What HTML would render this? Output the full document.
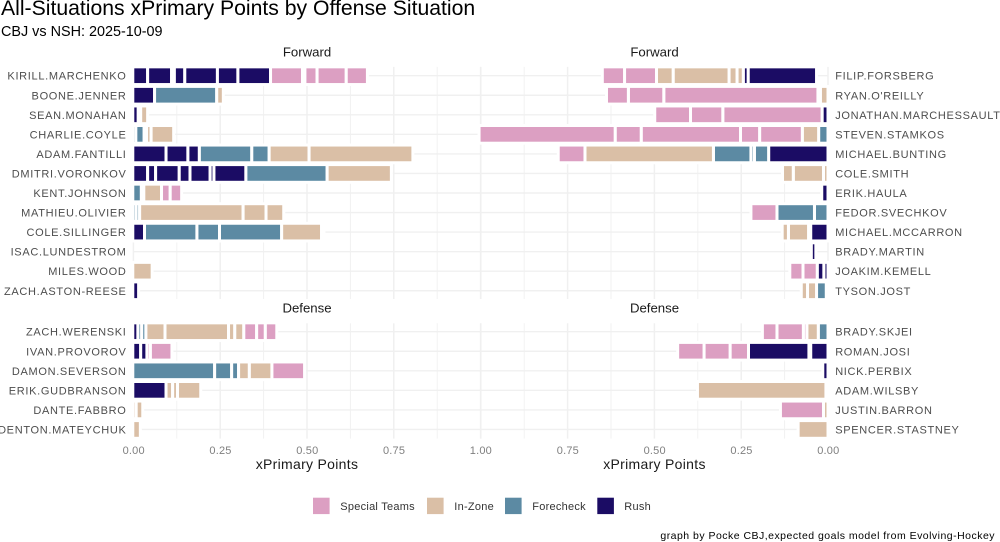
<!DOCTYPE html>
<html lang="en">
<head>
<meta charset="utf-8">
<title>All-Situations xPrimary Points by Offense Situation</title>
<style>
html,body{margin:0;padding:0;background:#fff;}
body{width:1000px;height:542px;overflow:hidden;}
svg{display:block;font-family:"Liberation Sans",Arial,sans-serif;}
.name{font-size:11px;letter-spacing:.68px;fill:#4d4d4d;}
.tick{font-size:11px;letter-spacing:.2px;fill:#7f7f7f;}
.axt{font-size:14px;letter-spacing:.3px;fill:#1a1a1a;}
.strip{font-size:13.2px;fill:#1a1a1a;}
.leg{font-size:11px;letter-spacing:.25px;fill:#333;}
</style>
</head>
<body>
<svg id="chart" xmlns="http://www.w3.org/2000/svg" width="1000" height="542" viewBox="0 0 1000 542">
  <text x="1" y="15" font-size="21.2" fill="#000">All-Situations xPrimary Points by Offense Situation</text>
  <text x="1" y="36" font-size="14.4" fill="#000">CBJ vs NSH: 2025-10-09</text>
  <text class="strip" x="307" y="56.5" text-anchor="middle">Forward</text>
  <text class="strip" x="654.5" y="56.5" text-anchor="middle">Forward</text>
  <text class="strip" x="307" y="312.5" text-anchor="middle">Defense</text>
  <text class="strip" x="654.5" y="312.5" text-anchor="middle">Defense</text>
  <text class="axt" x="307" y="469" text-anchor="middle">xPrimary Points</text>
  <text class="axt" x="654.5" y="469" text-anchor="middle">xPrimary Points</text>
  <g id="grid"></g>
  <g id="bars"></g>
  <g id="labels"></g>
  <g>
    <rect x="313" y="497.7" width="16.6" height="16.4" fill="#dc9fc2"/>
    <text class="leg" x="340.3" y="510">Special Teams</text>
    <rect x="427" y="497.7" width="16.6" height="16.4" fill="#dabfa6"/>
    <text class="leg" x="454.3" y="510">In-Zone</text>
    <rect x="505" y="497.7" width="16.6" height="16.4" fill="#5c8aa3"/>
    <text class="leg" x="532.3" y="510">Forecheck</text>
    <rect x="597.3" y="497.7" width="16.6" height="16.4" fill="#1b0c64"/>
    <text class="leg" x="624.3" y="510">Rush</text>
  </g>
  <text x="995" y="539" text-anchor="end" font-size="10.5" letter-spacing=".48" fill="#000">graph by Pocke CBJ,expected goals model from Evolving-Hockey</text>
</svg>
<script>
// Situation codes: S = Special Teams, I = In-Zone, F = Forecheck, R = Rush, N = no mark (empty stretch)
const situationColors = {S:'#dc9fc2', I:'#dabfa6', F:'#5c8aa3', R:'#1b0c64'};
const situationNames = {S:'special-teams', I:'in-zone', F:'forecheck', R:'rush', N:'none'};

const majorTicks = [0, 0.25, 0.5, 0.75, 1];
const minorTicks = [0.125, 0.375, 0.625, 0.875];
const tickLabels = ['0.00', '0.25', '0.50', '0.75', '1.00'];

const cbjForwards = ['KIRILL.MARCHENKO','BOONE.JENNER','SEAN.MONAHAN','CHARLIE.COYLE','ADAM.FANTILLI','DMITRI.VORONKOV','KENT.JOHNSON','MATHIEU.OLIVIER','COLE.SILLINGER','ISAC.LUNDESTROM','MILES.WOOD','ZACH.ASTON-REESE'];
const cbjForwardTypes = [
  ['R','R','R','R','R','R','R','S','S','S','S','S'],
  ['R','F','I'],
  ['R','F','I'],
  ['F','F','I','I','I'],
  ['R','R','R','F','F','I','I'],
  ['R','R','R','R','R','R','R','F','I'],
  ['F','F','I','S','S'],
  ['F','F','I','I','I'],
  ['R','F','F','F','I','S'],
  [],
  ['I'],
  ['R']
];
const cbjForwardValues = [
  [.041,.069,.008,.030,.094,.059,.094,.092,.007,.035,.084,.061],
  [.061,.179,.019],
  [.014,.007,.020],
  [.007,.024,.007,.013,.065],
  [.094,.063,.033,.151,.050,.115,.299],
  [.041,.023,.068,.031,.058,.011,.092,.234,.185],
  [.023,.007,.051,.025,.033],
  [.008,.010,.298,.066,.051],
  [.032,.151,.065,.179,.115,.007],
  [],
  [.054],
  [.015]
];

const nshForwards = ['FILIP.FORSBERG',"RYAN.O'REILLY",'JONATHAN.MARCHESSAULT','STEVEN.STAMKOS','MICHAEL.BUNTING','COLE.SMITH','ERIK.HAULA','FEDOR.SVECHKOV','MICHAEL.MCCARRON','BRADY.MARTIN','JOAKIM.KEMELL','TYSON.JOST'];
const nshForwardTypes = [
  ['N','R','R','I','I','I','I','S','S'],
  ['I','S','S','S','S'],
  ['R','S','S','S'],
  ['F','I','S','S','S','S','S'],
  ['R','F','F','F','I','S'],
  ['I','I','I'],
  ['R'],
  ['F','F','S'],
  ['R','F','I','I'],
  ['N','R'],
  ['R','R','S','S'],
  ['R','F','I','I']
];
const nshForwardValues = [
  [.033,.197,.014,.018,.023,.161,.048,.092,.064],
  [.022,.007,.444,.102,.063],
  [.017,.286,.093,.103],
  [.027,.047,.123,.055,.286,.075,.392],
  [.171,.041,.010,.108,.370,.077],
  [.013,.087,.031],
  [.018],
  [.039,.108,.075],
  [.050,.006,.058,.018],
  [.035,.013],
  [.012,.019,.041,.038],
  [.005,.028,.026,.018]
];

const cbjDefense = ['ZACH.WERENSKI','IVAN.PROVOROV','DAMON.SEVERSON','ERIK.GUDBRANSON','DANTE.FABBRO','DENTON.MATEYCHUK'];
const cbjDefenseTypes = [
  ['R','F','F','I','I','I','I','S','S','S'],
  ['R','R','S','S'],
  ['F','F','F','I','I','S'],
  ['R','I','I','I'],
  ['I','I'],
  ['I']
];
const cbjDefenseValues = [
  [.013,.011,.012,.055,.183,.018,.026,.037,.025,.033],
  [.021,.018,.010,.062],
  [.234,.049,.020,.031,.065,.094],
  [.094,.019,.014,.067],
  [.008,.019],
  [.020]
];

const nshDefense = ['BRADY.SKJEI','ROMAN.JOSI','NICK.PERBIX','ADAM.WILSBY','JUSTIN.BARRON','SPENCER.STASTNEY'];
const nshDefenseTypes = [
  ['F','I','S','S','S'],
  ['R','R','R','S','S','S'],
  ['R'],
  ['I','I'],
  ['I','S'],
  ['I']
];
const nshDefenseValues = [
  [.028,.033,.010,.076,.042],
  [.050,.005,.174,.053,.075,.076],
  [.015],
  [.006,.370],
  [.013,.124],
  [.086]
];

const SVGNS = 'http://www.w3.org/2000/svg';
const gridG = document.getElementById('grid');
const barsG = document.getElementById('bars');
const labelsG = document.getElementById('labels');
const PX_PER_UNIT = 347.2;
const ROW_BAR = 17.7;

function xLeft(v){ return 133.4 + v * PX_PER_UNIT; }
function xRight(v){ return 828 - v * PX_PER_UNIT; }

function makeLine(x1, y1, x2, y2, w){
  const l = document.createElementNS(SVGNS, 'line');
  
  
  l.setAttribute('x1', x1);
  l.setAttribute('y1', y1);
  l.setAttribute('x2', x2);
  l.setAttribute('y2', y2);
  l.setAttribute('stroke', '#f0f0f0');
  l.setAttribute('stroke-width', w);
  gridG.appendChild(l);
}

function drawPanel(names, types, values, scale, top, bottom, firstY, stepY, leftSide){
  const a = scale(0), b = scale(1);
  majorTicks.forEach(function(t){ makeLine(scale(t), top, scale(t), bottom, 1.5); });
  minorTicks.forEach(function(t){ makeLine(scale(t), top, scale(t), bottom, 0.9); });
  names.forEach(function(name, i){
    const cy = firstY + i * stepY;
    makeLine(a, cy, b, cy, 1.4);
    let cum = 0;
    values[i].forEach(function(v, j){
      const start = cum;
      cum += v;
      const code = types[i][j];
      if (code === 'N') return;
      let x0 = scale(start), x1 = scale(cum);
      if (leftSide && start === 0) x0 -= 0.6;
      const r = document.createElementNS(SVGNS, 'rect');
      
      
      r.setAttribute('x', Math.min(x0, x1));
      r.setAttribute('y', cy - ROW_BAR / 2);
      r.setAttribute('width', Math.abs(x1 - x0));
      r.setAttribute('height', ROW_BAR);
      r.setAttribute('fill', situationColors[code]);
      r.setAttribute('stroke', '#fff');
      r.setAttribute('stroke-width', 3);
      barsG.appendChild(r);
    });
    const tx = document.createElementNS(SVGNS, 'text');
    
    
    tx.setAttribute('class', 'name');
    tx.setAttribute('x', leftSide ? 126.5 : 835.2);
    tx.setAttribute('y', cy + 4);
    tx.setAttribute('text-anchor', leftSide ? 'end' : 'start');
    tx.textContent = name;
    labelsG.appendChild(tx);
  });
}

function drawTicks(scale, ticks, labels){
  ticks.forEach(function(t, i){
    const tx = document.createElementNS(SVGNS, 'text');
    
    
    tx.setAttribute('class', 'tick');
    tx.setAttribute('x', scale(t) + 0.3);
    tx.setAttribute('y', 454);
    tx.setAttribute('text-anchor', 'middle');
    tx.textContent = labels[i];
    labelsG.appendChild(tx);
  });
}

drawPanel(cbjForwards, cbjForwardTypes, cbjForwardValues, xLeft, 66.9, 299, 75.7, 19.55, true);
drawPanel(nshForwards, nshForwardTypes, nshForwardValues, xRight, 66.9, 299, 75.7, 19.55, false);
drawPanel(cbjDefense, cbjDefenseTypes, cbjDefenseValues, xLeft, 323.3, 438.6, 331.7, 19.55, true);
drawPanel(nshDefense, nshDefenseTypes, nshDefenseValues, xRight, 323.3, 438.6, 331.7, 19.55, false);
drawTicks(xLeft, majorTicks, tickLabels);
drawTicks(xRight, majorTicks.slice(0, 4), tickLabels.slice(0, 4));
</script>
</body>
</html>
